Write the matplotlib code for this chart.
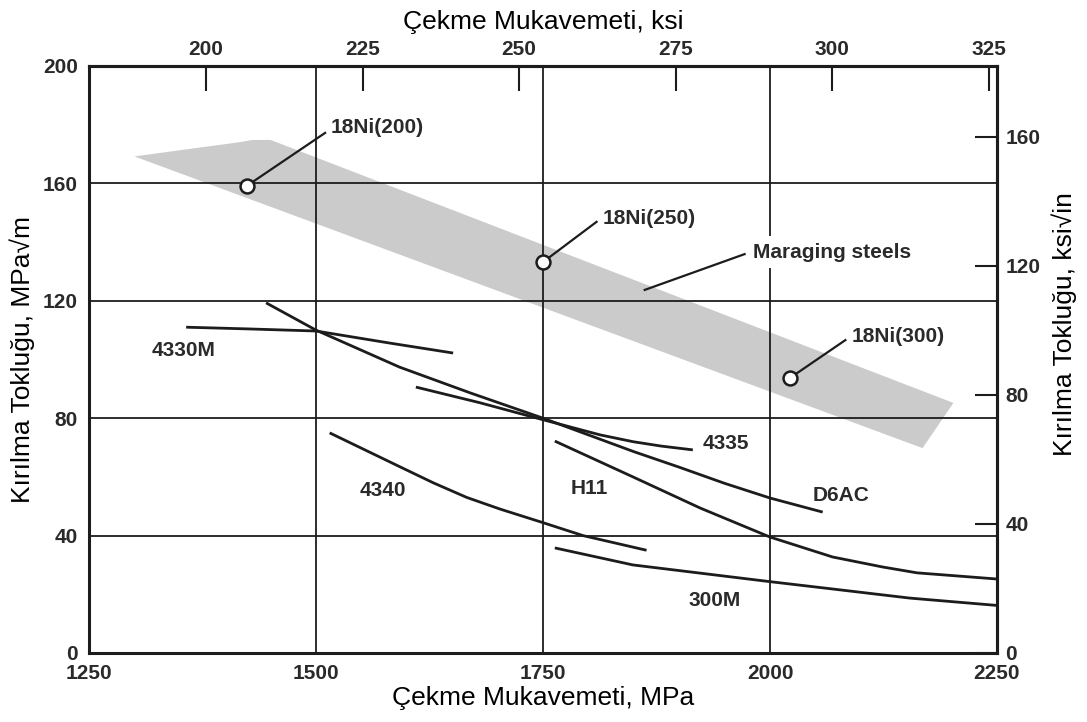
"""Fracture toughness vs. tensile strength for high-strength steels.
"""
import matplotlib.pyplot as plt
import numpy as np

plt.rcParams['font.family'] = ['Liberation Sans', 'DejaVu Sans']

MPA_PER_KSI = 6.894757
MPAM_PER_KSIIN = 1.098843

# curves: tensile strength (MPa) and fracture toughness (MPa sqrt(m))
c4330m_x = [1357, 1427, 1500, 1581, 1651]
c4330m_y = [111.0, 110.4, 109.7, 105.6, 102.2]
d6ac_x = [1445, 1500, 1592, 1670, 1750, 1800, 1850, 1900, 1950, 2000, 2058]
d6ac_y = [119.3, 110.0, 97.4, 88.6, 80.0, 74.3, 68.6, 63.3, 57.8, 52.8, 48.0]
c4335_x = [1610, 1680, 1740, 1813, 1849, 1880, 1915]
c4335_y = [90.6, 85.3, 80.3, 74.3, 72.0, 70.5, 69.2]
c4340_x = [1515, 1592, 1629, 1666, 1703, 1749, 1794, 1864]
c4340_y = [75.0, 63.5, 58.0, 53.0, 49.0, 44.5, 40.0, 35.0]
h11_x = [1763, 1849, 1923, 2000, 2069, 2124, 2162, 2250]
h11_y = [72.2, 60.0, 49.4, 39.5, 32.7, 29.3, 27.3, 25.2]
c300m_x = [1763, 1849, 2000, 2069, 2154, 2250]
c300m_y = [35.8, 30.0, 24.3, 21.8, 18.7, 16.2]

# maraging steel band outline
band_x = [1300, 1415, 1430, 1450, 2202, 2168]
band_y = [169.2, 174.0, 174.8, 174.8, 85.2, 69.8]

# grade points
ni_names = ['18Ni(200)', '18Ni(250)', '18Ni(300)']
ni_x = [1424, 1750, 2022]
ni_y = [159.2, 133.2, 93.7]
ni_lead_x = [1510, 1809, 2083]
ni_lead_y = [177.2, 146.9, 106.6]
ni_text_x = [1516, 1816, 2090]
ni_text_y = [178.9, 148.2, 108.0]

curves = [
    (c4330m_x, c4330m_y, '4330M', 1319, 103.2),
    (d6ac_x, d6ac_y, 'D6AC', 2047, 53.5),
    (c4335_x, c4335_y, '4335', 1926, 71.5),
    (c4340_x, c4340_y, '4340', 1548, 55.5),
    (h11_x, h11_y, 'H11', 1780, 56.2),
    (c300m_x, c300m_y, '300M', 1910, 18.0),
]

ink = '#1c1c1c'
tick_font = dict(fontsize=15, fontweight='bold', color='#2a2a2a')

fig = plt.figure(figsize=(10.87, 7.22), dpi=100)
ax = fig.add_axes([0.0819, 0.0956, 0.8353, 0.813])
ax.set_xlim(1250, 2250)
ax.set_ylim(0, 200)

ax.fill(band_x, band_y, color='#cbcbcb', lw=0, zorder=1)

ax.set_xticks([1250, 1500, 1750, 2000, 2250])
ax.set_yticks([0, 40, 80, 120, 160, 200])
ax.grid(True, color=ink, lw=1.3, zorder=2)
ax.tick_params(length=0, pad=8)
for lab in ax.get_xticklabels() + ax.get_yticklabels():
    lab.set(**tick_font)
for sp in ax.spines.values():
    sp.set_linewidth(2.2)
    sp.set_color(ink)
    sp.set_zorder(5)

for xs, ys, name, tx, ty in curves:
    ax.plot(xs, ys, color=ink, lw=2.0, zorder=3, solid_capstyle='butt',
            solid_joinstyle='round')
    ax.text(tx, ty, name, ha='left', va='center', zorder=4, **tick_font)

for name, x, y, lx, ly, tx, ty in zip(ni_names, ni_x, ni_y, ni_lead_x,
                                      ni_lead_y, ni_text_x, ni_text_y):
    ax.plot([x, lx], [y, ly], color=ink, lw=1.6, zorder=3)
    ax.plot(x, y, 'o', ms=10, mfc='white', mec=ink, mew=1.8, zorder=4)
    ax.text(tx, ty, name, ha='left', va='center', zorder=4, **tick_font)

ax.plot([1862, 1972], [123.7, 135.9], color=ink, lw=1.6, zorder=3)
ax.text(1981, 136.6, 'Maraging steels', ha='left', va='center', zorder=4,
        bbox=dict(facecolor='white', edgecolor='none', pad=5), **tick_font)

top = ax.secondary_xaxis('top', functions=(lambda v: v / MPA_PER_KSI,
                                           lambda v: v * MPA_PER_KSI))
top.set_xticks([200, 225, 250, 275, 300, 325])
top.tick_params(direction='in', length=18, width=1.5, color=ink, pad=5)
for lab in top.get_xticklabels():
    lab.set(**tick_font)
top.spines['top'].set_linewidth(2.2)
top.set_xlabel('Çekme Mukavemeti, ksi', fontsize=19, labelpad=8)

right = ax.secondary_yaxis('right', functions=(lambda v: v / MPAM_PER_KSIIN,
                                               lambda v: v * MPAM_PER_KSIIN))
right.set_yticks([0, 40, 80, 120, 160])
right.tick_params(direction='in', length=16, width=1.5, color=ink, pad=6)
for lab in right.get_yticklabels():
    lab.set(**tick_font)
right.spines['right'].set_linewidth(2.2)
right.set_ylabel('Kırılma Tokluğu, ksi√in', fontsize=19)
right.yaxis.set_label_coords(1.060, 0.56, transform=ax.transAxes)

ax.set_xlabel('Çekme Mukavemeti, MPa', fontsize=19, labelpad=2)
ax.set_ylabel('Kırılma Tokluğu, MPa√m', fontsize=19, labelpad=6)

plt.savefig('out.png', dpi=100)
